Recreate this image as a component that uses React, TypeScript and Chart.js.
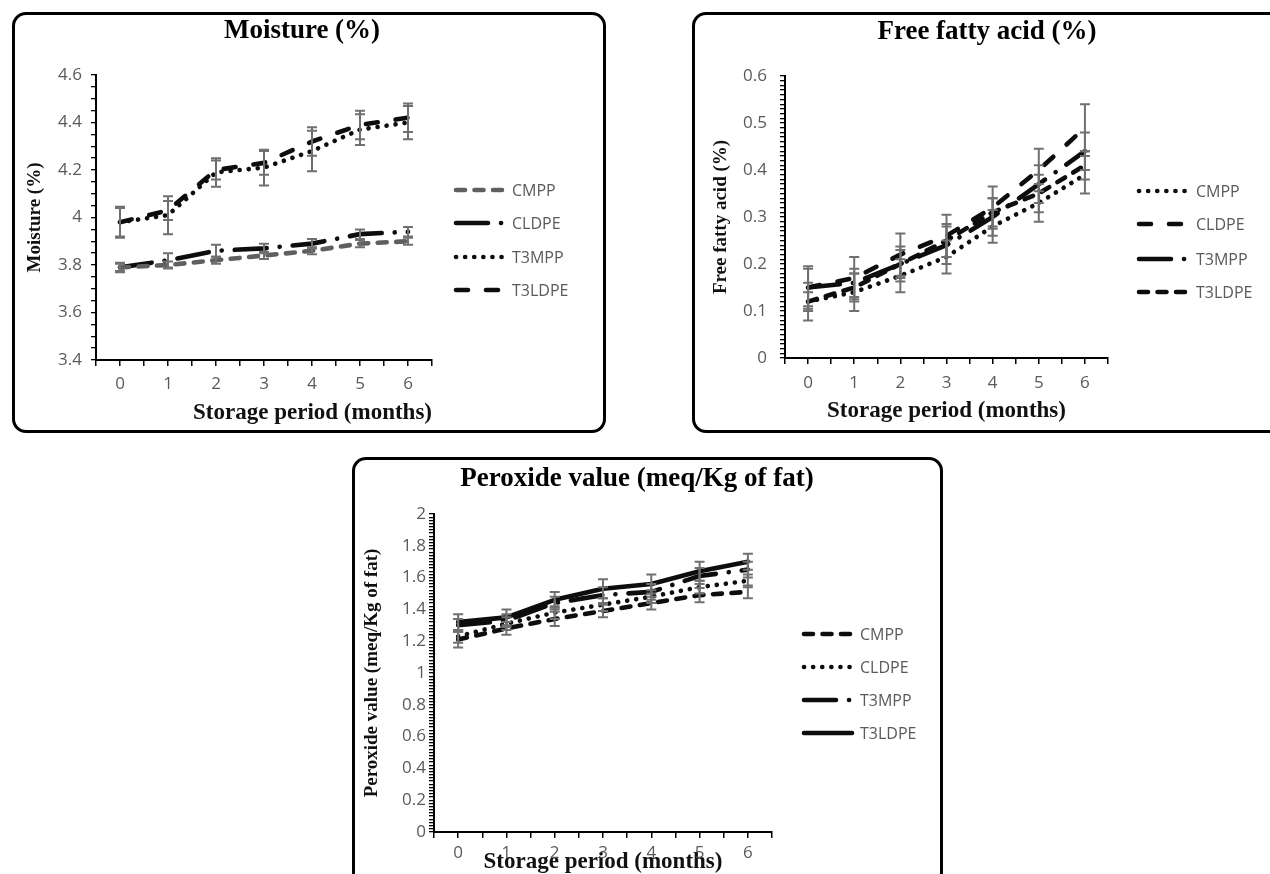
import React, { useEffect, useRef } from 'react';
import { Chart, registerables } from 'chart.js';

Chart.register(...registerables);

// ---------------- data ----------------
const months = [0, 1, 2, 3, 4, 5, 6];
const seriesNames = ['CMPP', 'CLDPE', 'T3MPP', 'T3LDPE'];

// Moisture (%)
const moistureCMPP = [3.79, 3.8, 3.82, 3.84, 3.86, 3.89, 3.9];
const moistureCLDPE = [3.79, 3.82, 3.86, 3.87, 3.89, 3.93, 3.94];
const moistureT3MPP = [3.98, 4.01, 4.19, 4.21, 4.28, 4.37, 4.4];
const moistureT3LDPE = [3.98, 4.03, 4.2, 4.23, 4.32, 4.39, 4.42];
const moistureErrCMPP = [0.02, 0.015, 0.015, 0.015, 0.015, 0.015, 0.015];
const moistureErrCLDPE = [0.015, 0.03, 0.025, 0.02, 0.02, 0.02, 0.02];
const moistureErrT3MPP = [0.065, 0.08, 0.06, 0.075, 0.085, 0.065, 0.07];
const moistureErrT3LDPE = [0.06, 0.04, 0.04, 0.05, 0.06, 0.06, 0.06];
const moistureYTicks = [3.4, 3.6, 3.8, 4, 4.2, 4.4, 4.6];

// Free fatty acid (%)
const ffaCMPP = [0.12, 0.14, 0.175, 0.215, 0.28, 0.33, 0.39];
const ffaCLDPE = [0.15, 0.17, 0.22, 0.26, 0.32, 0.4, 0.49];
const ffaT3MPP = [0.15, 0.16, 0.2, 0.24, 0.3, 0.37, 0.44];
const ffaT3LDPE = [0.12, 0.15, 0.2, 0.25, 0.31, 0.35, 0.41];
const ffaErrCMPP = [0.04, 0.04, 0.035, 0.035, 0.035, 0.04, 0.04];
const ffaErrCLDPE = [0.045, 0.045, 0.045, 0.045, 0.045, 0.045, 0.05];
const ffaErrT3MPP = [0.04, 0.03, 0.037, 0.04, 0.04, 0.04, 0.04];
const ffaErrT3LDPE = [0.02, 0.03, 0.03, 0.035, 0.03, 0.04, 0.03];
const ffaYTicks = [0, 0.1, 0.2, 0.3, 0.4, 0.5, 0.6];

// Peroxide value (meq/Kg of fat)
const pvCMPP = [1.21, 1.28, 1.34, 1.39, 1.44, 1.49, 1.51];
const pvCLDPE = [1.23, 1.31, 1.38, 1.43, 1.48, 1.54, 1.58];
const pvT3MPP = [1.3, 1.33, 1.44, 1.49, 1.51, 1.61, 1.65];
const pvT3LDPE = [1.32, 1.35, 1.46, 1.53, 1.56, 1.64, 1.7];
const pvErrCMPP = [0.05, 0.04, 0.045, 0.04, 0.04, 0.045, 0.04];
const pvErrCLDPE = [0.04, 0.04, 0.04, 0.04, 0.04, 0.04, 0.04];
const pvErrT3MPP = [0.04, 0.04, 0.04, 0.05, 0.05, 0.05, 0.05];
const pvErrT3LDPE = [0.05, 0.05, 0.05, 0.06, 0.06, 0.06, 0.05];
const pvYTicks = [0, 0.2, 0.4, 0.6, 0.8, 1, 1.2, 1.4, 1.6, 1.8, 2];

// ---------------- styles ----------------
const SERIF = '"Liberation Serif", serif';
const SANS = '"Open Sans", sans-serif';
const TICK_COLOR = '#5a5a5a';
const BLACK = '#0d0d0d';
const GRAY_LINE = '#5f5f5f';
const ERR_COLOR = '#707070';
const LINE_W = 4.6;

const DASH: Record<string, number[]> = {
  shortDash: [9, 9.5],
  longDash: [12, 18],
  dotted: [0.1, 9],
  longDashDot: [32, 13, 0.1, 13],
  solid: [],
};

const panels = [
  {
    key: 'moisture',
    canvas: { x: 12, y: 12, w: 594, h: 421 },
    frame: { x: 12, y: 12, w: 594, h: 421 },
    area: { l: 96, r: 432, t: 75, b: 360 },
    title: { text: 'Moisture (%)', cx: 302, cy: 31 },
    yTitle: { text: 'Moisture (%)', cx: 35 },
    xTitle: { cy: 413, align: 'end' },
    y: { min: 3.4, max: 4.6, step: 0.05, majors: moistureYTicks, pad: 9 },
    xTickPad: 8,
    legend: { x0: 456, x1: 504, tx: 512, ys: [190, 223, 257, 290] },
    series: [
      { data: moistureCMPP, err: moistureErrCMPP, dash: 'shortDash', color: GRAY_LINE },
      { data: moistureCLDPE, err: moistureErrCLDPE, dash: 'longDashDot', color: BLACK },
      { data: moistureT3MPP, err: moistureErrT3MPP, dash: 'dotted', color: BLACK },
      { data: moistureT3LDPE, err: moistureErrT3LDPE, dash: 'longDash', color: BLACK },
    ],
  },
  {
    key: 'ffa',
    canvas: { x: 692, y: 12, w: 578, h: 421 },
    frame: { x: 692, y: 12, w: 640, h: 421 },
    area: { l: 785, r: 1108, t: 76, b: 358 },
    title: { text: 'Free fatty acid (%)', cx: 987, cy: 32 },
    yTitle: { text: 'Free fatty acid (%)', cx: 721 },
    xTitle: { cy: 411.5, align: 'center' },
    y: { min: 0, max: 0.6, step: 0.01, majors: ffaYTicks, pad: 13 },
    xTickPad: 9,
    legend: { x0: 1139, x1: 1187, tx: 1196, ys: [191, 224, 259, 292] },
    series: [
      { data: ffaCMPP, err: ffaErrCMPP, dash: 'dotted', color: BLACK },
      { data: ffaCLDPE, err: ffaErrCLDPE, dash: 'longDash', color: BLACK },
      { data: ffaT3MPP, err: ffaErrT3MPP, dash: 'longDashDot', color: BLACK },
      { data: ffaT3LDPE, err: ffaErrT3LDPE, dash: 'shortDash', color: BLACK },
    ],
  },
  {
    key: 'pv',
    canvas: { x: 352, y: 457, w: 591, h: 417 },
    frame: { x: 352, y: 457, w: 591, h: 460 },
    area: { l: 434, r: 772, t: 514, b: 832 },
    title: { text: 'Peroxide value (meq/Kg of fat)', cx: 637, cy: 479 },
    yTitle: { text: 'Peroxide value (meq/Kg of fat)', cx: 372 },
    xTitle: { cy: 862, align: 'center' },
    y: { min: 0, max: 2, step: 0.02, majors: pvYTicks, pad: 3 },
    xTickPad: 5,
    legend: { x0: 804, x1: 852, tx: 860, ys: [634, 667, 700, 733] },
    series: [
      { data: pvCMPP, err: pvErrCMPP, dash: 'shortDash', color: BLACK },
      { data: pvCLDPE, err: pvErrCLDPE, dash: 'dotted', color: BLACK },
      { data: pvT3MPP, err: pvErrT3MPP, dash: 'longDashDot', color: BLACK },
      { data: pvT3LDPE, err: pvErrT3LDPE, dash: 'solid', color: BLACK },
    ],
  },
];

const TITLE_SIZE = 27;
const XTITLE_SIZE = 23;
const YTITLE_SIZE = 19;
const TICK_SIZE = 17;
const LEGEND_SIZE = 16;

function ChartPanel({ cfg }: { cfg: any }) {
  const ref = useRef<HTMLCanvasElement>(null);

  useEffect(() => {
    const canvas = ref.current;
    if (!canvas) return;
    const W = cfg.canvas.w;
    const H = cfg.canvas.h;
    const L = cfg.area.l - cfg.canvas.x;
    const R = cfg.area.r - cfg.canvas.x;
    const T = cfg.area.t - cfg.canvas.y;
    const B = cfg.area.b - cfg.canvas.y;
    const tcx = cfg.title.cx - cfg.canvas.x;
    const tcy = cfg.title.cy - cfg.canvas.y;
    const padL = Math.max(0, 2 * tcx - W);
    const padR = Math.max(0, W - 2 * tcx);
    const titleLH = TITLE_SIZE * 1.2;
    const titlePadTop = tcy - titleLH / 2;
    const titlePadBottom = T - titleLH - titlePadTop;
    const yW = L - padL;
    const rW = W - padR - R;
    const xH = H - B;
    const xtLH = XTITLE_SIZE * 1.2;
    const xtPadBottom = H - (cfg.xTitle.cy - cfg.canvas.y) - xtLH / 2;
    const ytLH = YTITLE_SIZE * 1.2;
    const ytPadTop = cfg.yTitle.cx - cfg.canvas.x - padL - ytLH / 2;

    const majors: number[] = cfg.y.majors;
    const isMajor = (v: number) => majors.some((t) => Math.abs(t - v) < 1e-6);

    const datasets = cfg.series.map((s: any, i: number) => ({
      label: seriesNames[i],
      data: months.map((m, j) => ({ x: m, y: s.data[j] })),
      errors: s.err,
      borderColor: s.color,
      backgroundColor: s.color,
      borderWidth: LINE_W,
      borderDash: DASH[s.dash],
      borderCapStyle: 'round',
      borderJoinStyle: 'round',
      pointRadius: 0,
      tension: 0,
      fill: false,
    }));

    const errorBars = {
      id: 'errorBars',
      afterDatasetsDraw(chart: any) {
        const ctx = chart.ctx;
        const ys = chart.scales.y;
        ctx.save();
        ctx.strokeStyle = ERR_COLOR;
        ctx.lineWidth = 2;
        ctx.setLineDash([]);
        chart.data.datasets.forEach((ds: any, di: number) => {
          const meta = chart.getDatasetMeta(di);
          meta.data.forEach((pt: any, i: number) => {
            const v = ds.data[i].y;
            const e = ds.errors[i];
            const x = pt.x;
            const y1 = ys.getPixelForValue(v + e);
            const y2 = ys.getPixelForValue(v - e);
            ctx.beginPath();
            ctx.moveTo(x, y1);
            ctx.lineTo(x, y2);
            ctx.moveTo(x - 5, y1);
            ctx.lineTo(x + 5, y1);
            ctx.moveTo(x - 5, y2);
            ctx.lineTo(x + 5, y2);
            ctx.stroke();
          });
        });
        ctx.restore();
      },
    };

    const legendPlugin = {
      id: 'sideLegend',
      afterDraw(chart: any) {
        const ctx = chart.ctx;
        const lg = cfg.legend;
        ctx.save();
        chart.data.datasets.forEach((ds: any, i: number) => {
          const y = lg.ys[i] - cfg.canvas.y;
          ctx.beginPath();
          ctx.strokeStyle = ds.borderColor;
          ctx.lineWidth = ds.borderWidth;
          ctx.lineCap = ds.borderCapStyle;
          ctx.setLineDash(ds.borderDash);
          ctx.moveTo(lg.x0 - cfg.canvas.x, y);
          ctx.lineTo(lg.x1 - cfg.canvas.x, y);
          ctx.stroke();
          ctx.setLineDash([]);
          ctx.fillStyle = TICK_COLOR;
          ctx.font = `${LEGEND_SIZE}px ${SANS}`;
          ctx.textAlign = 'left';
          ctx.textBaseline = 'middle';
          ctx.fillText(ds.label, lg.tx - cfg.canvas.x, y + 1);
        });
        ctx.restore();
      },
    };

    const chart = new Chart(canvas, {
      type: 'line',
      data: { datasets },
      plugins: [errorBars, legendPlugin],
      options: {
        animation: false,
        responsive: false,
        maintainAspectRatio: false,
        devicePixelRatio: 1,
        layout: { padding: { left: padL, right: padR, top: 0, bottom: 0 } },
        plugins: {
          legend: { display: false },
          tooltip: { enabled: false },
          title: {
            display: true,
            text: cfg.title.text,
            color: '#000',
            font: { family: SERIF, size: TITLE_SIZE, weight: 'bold', lineHeight: 1.2 },
            padding: { top: titlePadTop, bottom: titlePadBottom },
          },
        },
        scales: {
          x: {
            type: 'linear',
            min: -0.5,
            max: 6.5,
            afterFit: (s: any) => {
              s.height = xH;
            },
            ticks: {
              stepSize: 0.5,
              autoSkip: false,
              maxRotation: 0,
              minRotation: 0,
              color: TICK_COLOR,
              font: { family: SANS, size: TICK_SIZE },
              padding: cfg.xTickPad,
              callback: (v: any) => (Math.abs(v - Math.round(v)) < 1e-6 ? String(Math.round(v)) : ''),
            },
            grid: { display: true, drawOnChartArea: false, drawTicks: true, tickLength: 6, color: '#000', lineWidth: 1.5 },
            border: { display: true, color: '#000', width: 2 },
            title: {
              display: true,
              text: 'Storage period (months)',
              align: cfg.xTitle.align,
              color: '#111',
              font: { family: SERIF, size: XTITLE_SIZE, weight: 'bold', lineHeight: 1.2 },
              padding: { top: 0, bottom: xtPadBottom },
            },
          },
          y: {
            type: 'linear',
            position: 'left',
            min: cfg.y.min,
            max: cfg.y.max,
            afterFit: (s: any) => {
              s.width = yW;
            },
            ticks: {
              stepSize: cfg.y.step,
              autoSkip: false,
              color: TICK_COLOR,
              font: { family: SANS, size: TICK_SIZE },
              padding: cfg.y.pad,
              callback: (v: any) => (isMajor(v) ? String(parseFloat(Number(v).toFixed(2))) : ''),
            },
            grid: { display: true, drawOnChartArea: false, drawTicks: true, tickLength: 5, color: '#000', lineWidth: 1.3 },
            border: { display: true, color: '#000', width: 2 },
            title: {
              display: true,
              text: cfg.yTitle.text,
              color: '#111',
              font: { family: SERIF, size: YTITLE_SIZE, weight: 'bold', lineHeight: 1.2 },
              padding: { top: ytPadTop, bottom: 0 },
            },
          },
          yR: {
            type: 'linear',
            position: 'right',
            display: true,
            grid: { display: false },
            ticks: { display: false },
            border: { display: false },
            afterFit: (s: any) => {
              s.width = rW;
            },
          },
        },
      } as any,
    });
    return () => chart.destroy();
  }, [cfg]);

  return (
    <>
      <div
        style={{
          position: 'absolute',
          left: cfg.frame.x,
          top: cfg.frame.y,
          width: cfg.frame.w,
          height: cfg.frame.h,
          border: '3px solid #000',
          borderRadius: 14,
          boxSizing: 'border-box',
        }}
      />
      <canvas
        ref={ref}
        width={cfg.canvas.w}
        height={cfg.canvas.h}
        style={{
          position: 'absolute',
          left: cfg.canvas.x,
          top: cfg.canvas.y,
          width: cfg.canvas.w,
          height: cfg.canvas.h,
        }}
      />
    </>
  );
}

export default function App() {
  return (
    <div
      style={{
        position: 'absolute',
        left: 0,
        top: 0,
        width: 1270,
        height: 874,
        overflow: 'hidden',
        background: '#fff',
      }}
    >
      {panels.map((p) => (
        <ChartPanel key={p.key} cfg={p} />
      ))}
    </div>
  );
}
